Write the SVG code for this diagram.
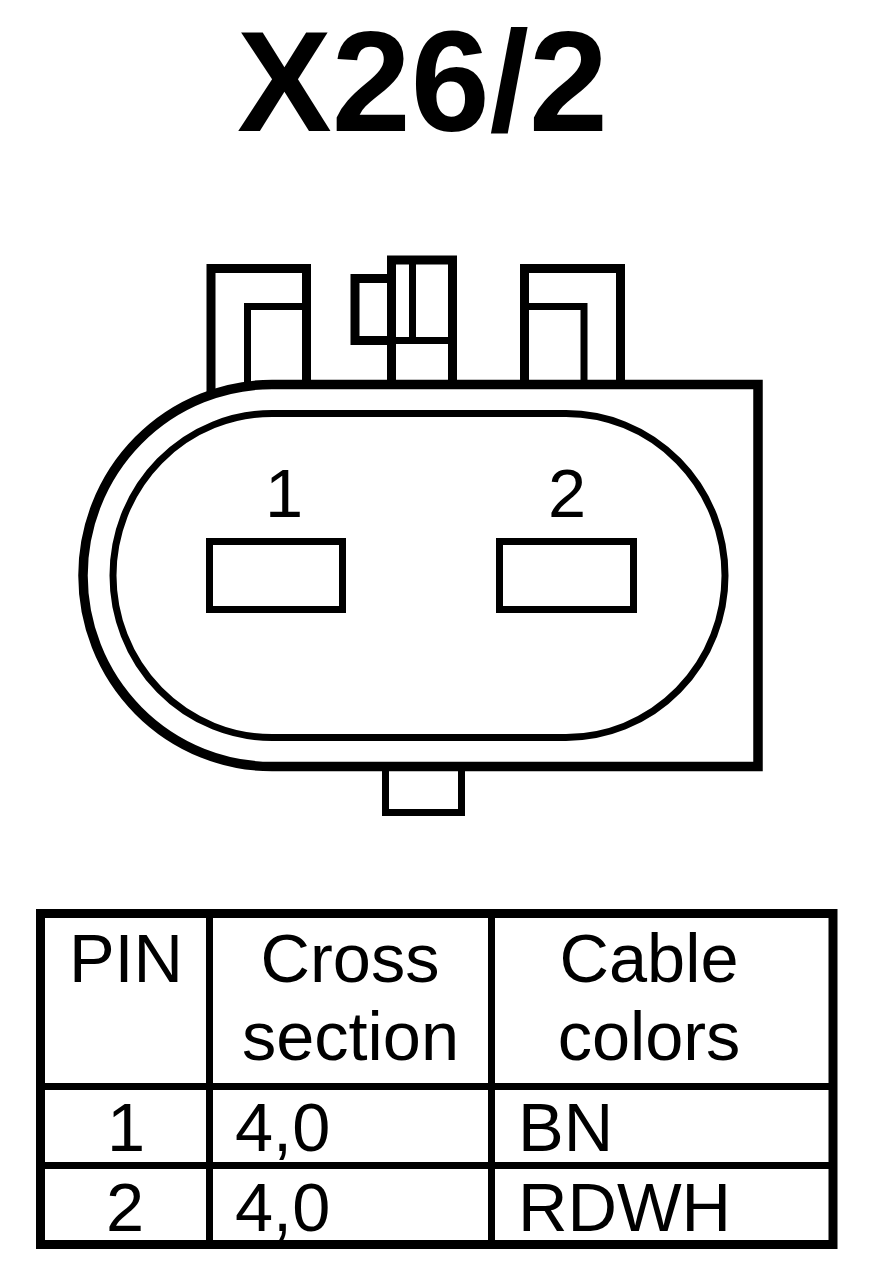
<svg xmlns="http://www.w3.org/2000/svg" width="880" height="1282" viewBox="0 0 880 1282">
<style>
.l{fill:none;stroke:#000;stroke-width:9;stroke-linecap:butt;stroke-linejoin:miter}
.m{fill:none;stroke:#000;stroke-width:7}
.h{fill:none;stroke:#000;stroke-width:9.5}
.t{font-family:"Liberation Sans",Arial,sans-serif;font-size:68.5px;fill:#000}
.c{text-anchor:middle}
</style>
<rect width="880" height="1282" fill="#fff"/>
<g id="title"><text x="422.500" y="130.500" class="c" style="font-family:'Liberation Sans',Arial,sans-serif;font-weight:bold;font-size:142px">X26/2</text></g>
<g id="connector-body">
<path class="l" d="M211 392V268.500H306.500V384"/>
<path class="m" d="M247.500 386V306.500H304"/>
<path class="l" d="M396 278.500H355V340.500H392M391.500 384V260H452.500V384"/>
<path class="m" d="M392 340.500H450M412.500 262V340"/>
<path class="l" d="M524.500 384V268.500H620.500V384"/>
<path class="m" d="M527 306.500H584V384"/>
<path class="h" d="M758 384.500H272A189 191 0 0 0 83 575.500A189 191 0 0 0 272 766.500H758Z"/>
<path class="m" d="M272 413.500H566A159 162 0 0 1 725 575.500A159 162 0 0 1 566 737.500H272A159 162 0 0 1 113 575.500A159 162 0 0 1 272 413.500Z"/>
<path class="m" d="M385.500 768V812.500H461.500V768"/>
</g>
<g id="pin-1"><rect class="m" x="209.500" y="541.500" width="133" height="68"/><text x="284" y="517" class="t c">1</text></g>
<g id="pin-2"><rect class="m" x="499.500" y="541.500" width="134" height="68"/><text x="567" y="517" class="t c">2</text></g>
<g id="table">
<rect class="l" x="40.500" y="913.500" width="792.500" height="331"/>
<path class="m" d="M209.500 913V1244M491.500 913V1244M41 1086.500H833M41 1165.500H833"/>
<text x="126" y="982" class="t c">PIN</text>
<text x="350" y="982" class="t c">Cross</text>
<text x="350.500" y="1060" class="t c">section</text>
<text x="649" y="982" class="t c">Cable</text>
<text x="649" y="1060" class="t c">colors</text>
<text x="126" y="1151" class="t c">1</text>
<text x="235" y="1151" class="t">4,0</text>
<text x="518" y="1151" class="t">BN</text>
<text x="125" y="1231" class="t c">2</text>
<text x="235" y="1231" class="t">4,0</text>
<text x="518" y="1231" class="t">RDWH</text>
</g>
</svg>
